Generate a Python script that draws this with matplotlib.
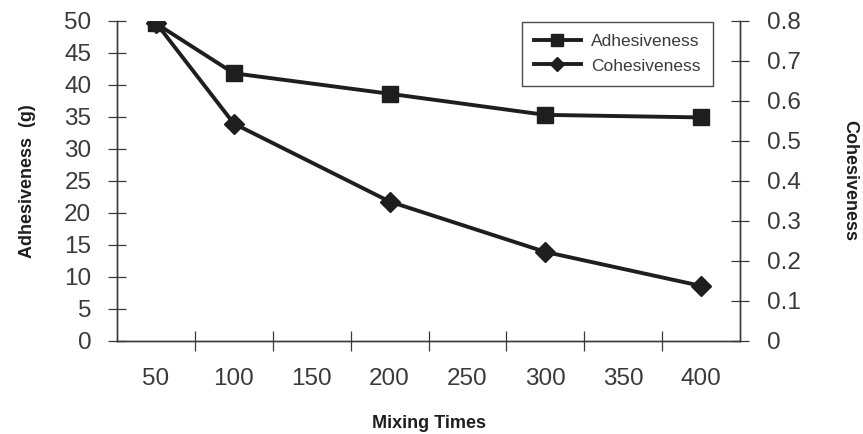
import matplotlib
matplotlib.use("Agg")
import matplotlib.pyplot as plt
from matplotlib.ticker import FixedLocator, FuncFormatter

# mixing trial results
mixing_times = [50, 100, 200, 300, 400]
adhesiveness = [49.6, 41.8, 38.6, 35.3, 34.9]       # g, left axis
cohesiveness = [0.795, 0.543, 0.348, 0.222, 0.137]  # right axis

x_labels = [50, 100, 150, 200, 250, 300, 350, 400]
x_marks = [75, 125, 175, 225, 275, 325, 375]
adh_ticks = [0, 5, 10, 15, 20, 25, 30, 35, 40, 45, 50]
coh_ticks = [0, 0.1, 0.2, 0.3, 0.4, 0.5, 0.6, 0.7, 0.8]

plt.rcParams['font.family'] = ['Liberation Sans', 'DejaVu Sans']
ink = '#1e1e1e'
grey = '#3a3a3a'

fig = plt.figure(figsize=(8.63, 4.34), dpi=100)
ax = fig.add_axes([0.1356, 0.215, 0.7219, 0.737])
ax2 = ax.twinx()

l1, = ax.plot(mixing_times, adhesiveness, color=ink, lw=2.8, marker='s',
              ms=11.5, mfc=ink, mec=ink, label='Adhesiveness', zorder=3)
l2, = ax2.plot(mixing_times, cohesiveness, color=ink, lw=2.8, marker='D',
               ms=10, mfc=ink, mec=ink, label='Cohesiveness', zorder=3)

ax.set_xlim(25, 425)
ax.set_ylim(0, 50)
ax2.set_ylim(0, 0.8)

for a in (ax, ax2):
    a.spines['top'].set_visible(False)
    for s in a.spines.values():
        s.set_color(grey)
        s.set_linewidth(1.0)

ax.xaxis.set_major_locator(FixedLocator(x_labels))
ax.xaxis.set_minor_locator(FixedLocator(x_marks))
ax.tick_params(axis='x', which='major', length=0, pad=20, labelsize=17.5,
               labelcolor=grey)
ax.tick_params(axis='x', which='minor', direction='inout', length=14,
               width=0.9, color=grey)

ax.set_yticks(adh_ticks)
ax.tick_params(axis='y', direction='inout', length=13, width=0.9, color=grey,
               pad=12, labelsize=17.5, labelcolor=grey)
ax2.set_yticks(coh_ticks)
ax2.yaxis.set_major_formatter(FuncFormatter(lambda v, p: '0' if v == 0 else f'{v:.1f}'))
ax2.tick_params(axis='y', direction='inout', length=13, width=0.9, color=grey,
                pad=13, labelsize=17.5, labelcolor=grey)

ax.set_xlabel('Mixing Times', fontsize=13, fontweight='bold', color=ink,
              labelpad=18)
ax.set_ylabel('Adhesiveness  (g)', fontsize=13, fontweight='bold', color=ink,
              labelpad=20)
ax2.set_ylabel('Cohesiveness', fontsize=13, fontweight='bold', color=ink,
               rotation=-90, labelpad=41)

leg = ax.legend(handles=[l1, l2], loc='upper right',
                bbox_to_anchor=(0.97, 1.025), fontsize=12.5, frameon=True,
                fancybox=False, edgecolor=ink, handlelength=2.7,
                borderpad=0.7, labelspacing=0.55, handletextpad=0.6,
                markerscale=0.75)
leg.get_frame().set_linewidth(1.0)
for t in leg.get_texts():
    t.set_color(grey)

fig.savefig('out.png', dpi=100)
